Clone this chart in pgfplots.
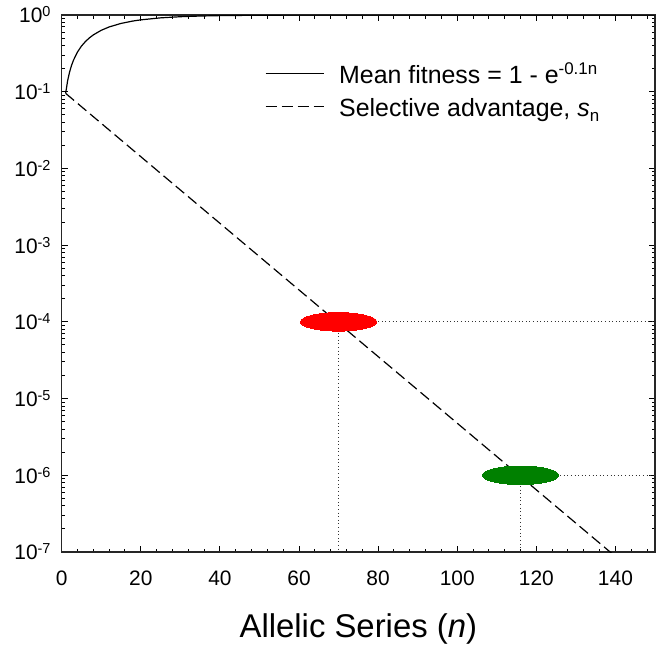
\documentclass[border=0pt]{standalone}
\usepackage{fontspec}
\setmainfont{Liberation Sans}
\usepackage{pgfplots}
\pgfplotsset{compat=1.18}
\newcommand{\sups}[1]{\raisebox{6bp}{\fontsize{14.5}{14.5}\selectfont #1}}
\newcommand{\lsups}[1]{\raisebox{9bp}{\fontsize{17}{17}\selectfont #1}}
\newcommand{\lsubs}[1]{\raisebox{-5bp}{\fontsize{17}{17}\selectfont #1}}
\begin{document}
\begin{tikzpicture}
\begin{axis}[
  at={(0,0)}, anchor=south west,
  scale only axis, width=593.3bp, height=537bp,
  xmin=0, xmax=150, ymode=log, ymin=1e-7, ymax=1,
  xtick={0,20,40,60,80,100,120,140},
  minor xtick={4,8,12,16,24,28,32,36,44,48,52,56,64,68,72,76,84,88,92,96,104,108,112,116,124,128,132,136,144,148},
  ytick={1e-7,1e-6,1e-5,1e-4,1e-3,1e-2,1e-1,1},
  yticklabels={10\sups{-7},10\sups{-6},10\sups{-5},10\sups{-4},10\sups{-3},10\sups{-2},10\sups{-1},10\sups{0}},
  minor ytick={2e-7,3e-7,4e-7,5e-7,6e-7,7e-7,8e-7,9e-7,
    2e-6,3e-6,4e-6,5e-6,6e-6,7e-6,8e-6,9e-6,
    2e-5,3e-5,4e-5,5e-5,6e-5,7e-5,8e-5,9e-5,
    2e-4,3e-4,4e-4,5e-4,6e-4,7e-4,8e-4,9e-4,
    2e-3,3e-3,4e-3,5e-3,6e-3,7e-3,8e-3,9e-3,
    2e-2,3e-2,4e-2,5e-2,6e-2,7e-2,8e-2,9e-2,
    2e-1,3e-1,4e-1,5e-1,6e-1,7e-1,8e-1,9e-1},
  /pgf/number format/assume math mode=true,
  tick align=inside,
  major tick length=6bp, minor tick length=3.5bp,
  every tick/.style={line width=1bp, black},
  axis line style={line width=1.3bp, black!85},
  xticklabel style={font=\fontsize{21}{24}\selectfont, inner sep=0pt, anchor=north, yshift=-19bp},
  yticklabel style={font=\fontsize{21}{24}\selectfont, inner sep=0pt, anchor=east, xshift=-11bp},
  xlabel={Allelic Series (\textit{n})},
  xlabel style={font=\fontsize{33}{38}\selectfont, anchor=base, at={(axis description cs:0.5,0)}, yshift=-85.7bp, inner sep=0pt},
  legend style={draw=none, fill=none, at={(axis description cs:0.3427,0.910)}, anchor=north west,
    inner sep=0pt, outer sep=0pt, row sep=13bp, column sep=15bp,
    nodes={font=\fontsize{25}{30}\selectfont, inner sep=0pt, text height=20bp, text depth=0bp, anchor=west}},
  legend cell align=left,
  legend image code/.code={\draw[#1] (0bp,0bp) -- (58bp,0bp);},
]
\addplot[black, line width=1.2bp] coordinates {
  (1,0.0952) (1.5,0.139) (2,0.1813) (2.5,0.2212) (3,0.2592) (4,0.3297) (5,0.3935) (6,0.4512)
  (7,0.5034) (8,0.5507) (10,0.6321) (12,0.6988) (15,0.7769) (18,0.8347) (20,0.8647)
  (25,0.9179) (30,0.9502) (35,0.9698) (40,0.9817) (50,0.9933) (60,0.9975)
  (80,0.99966) (100,0.99995) (150,1.0)};
\addlegendentry{Mean fitness = 1 - e\lsups{-0.1n}}
\addplot[black, line width=1.2bp, dash pattern=on 11bp off 5bp] coordinates {
  (1,0.0952) (20,0.014233) (40,0.0019263) (60,2.607e-4) (80,3.528e-5)
  (100,4.775e-6) (120,6.462e-7) (140,8.745e-8)};
\addlegendentry{Selective advantage, \textit{s}\lsubs{n}}
\addplot[forget plot, black!80, line width=0.9bp, dash pattern=on 1bp off 2.6bp] coordinates {(70,1e-4) (150,1e-4)};
\addplot[forget plot, black!80, line width=0.9bp, dash pattern=on 1bp off 2.6bp] coordinates {(70,1e-4) (70,1e-7)};
\addplot[forget plot, black!80, line width=0.9bp, dash pattern=on 1bp off 2.6bp] coordinates {(116,1e-6) (150,1e-6)};
\addplot[forget plot, black!80, line width=0.9bp, dash pattern=on 1bp off 2.6bp] coordinates {(116,1e-6) (116,1e-7)};
\addplot[forget plot, red, only marks, mark=*, mark size=9.3pt, mark options={xscale=4.12, draw=red, fill=red, line width=0pt}] coordinates {(70,1e-4)};
\addplot[forget plot, green!50!black, only marks, mark=*, mark size=9.3pt, mark options={xscale=4.12, draw=green!50!black, fill=green!50!black, line width=0pt}] coordinates {(116,1e-6)};
\end{axis}
\pgfresetboundingbox
\path[use as bounding box] (-61.7bp,-93bp) rectangle (594.3bp,552bp);
\end{tikzpicture}
\end{document}
